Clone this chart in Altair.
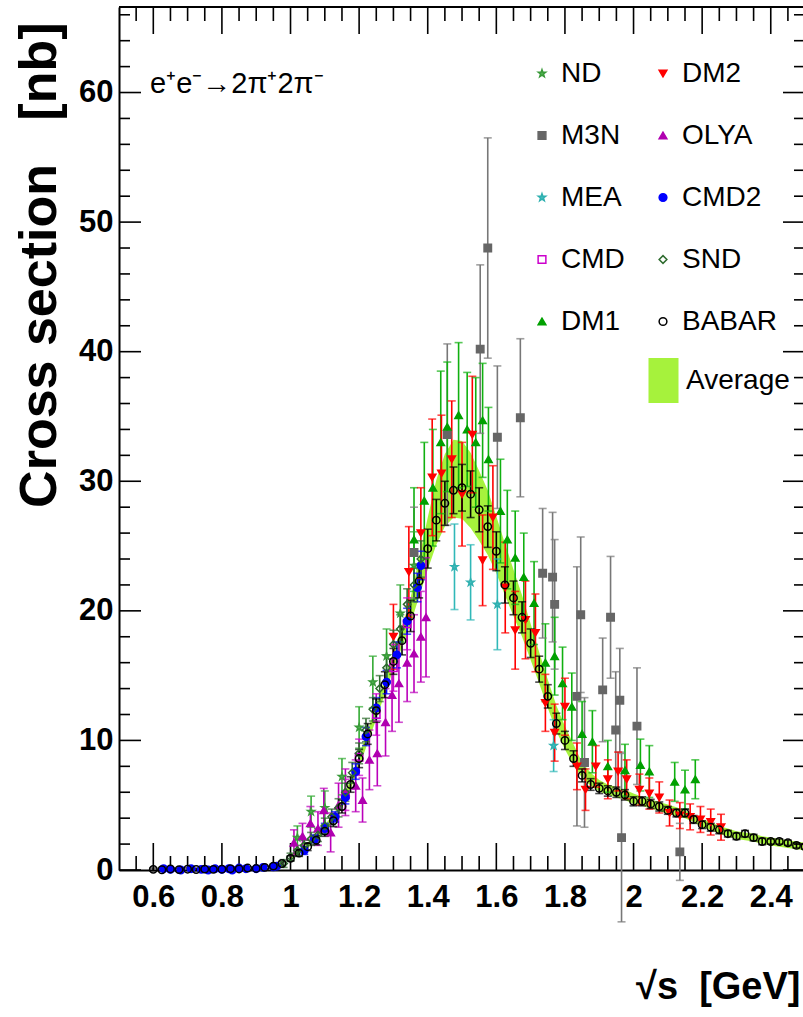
import altair as alt
import pandas as pd

FONT = "Liberation Sans, Arial, sans-serif"

# ---------------- data ----------------
reaction_label = ["e\u207ae\u207b\u21922\u03c0\u207a2\u03c0\u207b"]
average_label = ["Average"]

babar_x = [0.600, 0.625, 0.650, 0.675, 0.700, 0.725, 0.750, 0.775, 0.800, 0.825, 0.850, 0.875,
           0.900, 0.925, 0.950, 0.975, 1.000, 1.025, 1.050, 1.075, 1.100, 1.125, 1.150, 1.175,
           1.200, 1.225, 1.250, 1.275, 1.300, 1.325, 1.350, 1.375, 1.400, 1.425, 1.450, 1.475,
           1.500, 1.525, 1.550, 1.575, 1.600, 1.625, 1.650, 1.675, 1.700, 1.725, 1.750, 1.775,
           1.800, 1.825, 1.850, 1.875, 1.900, 1.925, 1.950, 1.975, 2.000, 2.025, 2.050, 2.075,
           2.100, 2.125, 2.150, 2.175, 2.200, 2.225, 2.250, 2.275, 2.300, 2.325, 2.350, 2.375,
           2.400, 2.425, 2.450, 2.475, 2.500]
babar_y = [0.05, 0.02, 0.08, 0.03, 0.06, 0.04, 0.07, 0.05, 0.06, 0.10, 0.08, 0.15,
           0.12, 0.20, 0.30, 0.50, 0.9, 1.3, 1.8, 2.3, 3.0, 3.8, 4.9, 6.6,
           8.6, 10.5, 12.3, 14.3, 16.1, 17.7, 19.6, 22.3, 24.8, 27.0, 28.3, 29.3,
           29.5, 29.0, 27.8, 26.5, 24.6, 22.0, 21.0, 19.5, 17.5, 15.5, 13.4, 11.3,
           10.0, 8.6, 7.3, 6.6, 6.3, 6.1, 6.0, 5.8, 5.3, 5.3, 5.1, 4.9,
           4.6, 4.4, 4.4, 3.9, 3.5, 3.3, 3.1, 2.8, 2.6, 2.8, 2.5, 2.2,
           2.2, 2.2, 2.1, 1.9, 1.8]
babar_err = [0.1, 0.1, 0.1, 0.1, 0.1, 0.1, 0.1, 0.1, 0.1, 0.1, 0.1, 0.1,
             0.1, 0.1, 0.15, 0.15, 0.2, 0.25, 0.3, 0.35, 0.4, 0.45, 0.5, 0.6,
             0.7, 0.8, 0.9, 1.0, 1.0, 1.1, 1.2, 1.3, 1.5, 1.6, 1.7, 1.8,
             1.8, 1.8, 1.7, 1.6, 1.5, 1.4, 1.3, 1.2, 1.1, 1.0, 0.9, 0.8,
             0.7, 0.6, 0.5, 0.45, 0.4, 0.4, 0.4, 0.4, 0.35, 0.35, 0.35, 0.35,
             0.3, 0.3, 0.3, 0.3, 0.3, 0.3, 0.3, 0.25, 0.25, 0.25, 0.25, 0.25,
             0.2, 0.2, 0.2, 0.2, 0.2]

avg_x = [1.000, 1.025, 1.050, 1.075, 1.100, 1.125, 1.150, 1.175, 1.200, 1.225, 1.250, 1.275,
         1.300, 1.325, 1.350, 1.375, 1.400, 1.425, 1.450, 1.475, 1.500, 1.525, 1.550, 1.575,
         1.600, 1.625, 1.650, 1.675, 1.700, 1.725, 1.750, 1.775, 1.800, 1.825, 1.850, 1.875,
         1.900, 1.925, 1.950, 1.975, 2.000, 2.025, 2.050, 2.075, 2.100, 2.125, 2.150, 2.175,
         2.200, 2.225, 2.250, 2.275, 2.300, 2.325, 2.350, 2.375, 2.400, 2.425, 2.450, 2.475, 2.500]
avg_y = [1.0, 1.4, 1.9, 2.5, 3.2, 4.0, 5.1, 6.6, 8.4, 10.3, 12.2, 14.2,
         16.2, 18.0, 20.0, 22.6, 25.2, 27.6, 29.3, 30.2, 30.1, 29.3, 28.1, 26.8,
         25.1, 23.2, 21.4, 19.6, 17.6, 15.6, 13.6, 11.7, 10.2, 8.9, 7.7, 7.0,
         6.5, 6.2, 6.0, 5.8, 5.5, 5.3, 5.1, 4.9, 4.7, 4.5, 4.3, 4.0,
         3.6, 3.4, 3.1, 2.9, 2.7, 2.6, 2.5, 2.3, 2.2, 2.1, 2.0, 1.9, 1.8]
avg_err = [0.2, 0.2, 0.2, 0.25, 0.3, 0.3, 0.35, 0.4, 0.45, 0.5, 0.55, 0.6,
           0.7, 0.8, 1.0, 1.5, 2.0, 2.5, 2.8, 3.0, 3.0, 2.9, 2.7, 2.5,
           2.2, 2.0, 1.8, 1.6, 1.4, 1.2, 1.1, 1.0, 0.9, 0.8, 0.6, 0.5,
           0.45, 0.4, 0.4, 0.4, 0.4, 0.35, 0.35, 0.35, 0.35, 0.35, 0.3, 0.3,
           0.3, 0.3, 0.3, 0.3, 0.3, 0.3, 0.3, 0.3, 0.3, 0.3, 0.3, 0.3, 0.3]

nd_x = [1.02, 1.06, 1.10, 1.15, 1.20, 1.24, 1.28, 1.32, 1.36]
nd_y = [2.5, 4.5, 4.8, 7.2, 11.0, 14.5, 16.5, 19.8, 23.5]
nd_err = [0.9, 1.2, 1.3, 1.4, 1.6, 2.0, 2.1, 2.2, 2.6]

m3n_x = [1.36, 1.457, 1.553, 1.575, 1.603, 1.67, 1.735, 1.764, 1.77, 1.835, 1.846, 1.857,
         1.91, 1.933, 1.948, 1.96, 1.965, 2.01, 2.135]
m3n_y = [24.5, 33.6, 40.2, 48.0, 33.4, 34.9, 22.9, 22.6, 20.5, 13.4, 19.7, 8.3,
         13.9, 19.5, 10.8, 13.1, 2.5, 11.1, 1.4]
m3n_err = [3.5, 7.0, 6.5, 8.5, 5.5, 6.1, 5.0, 5.0, 5.0, 10.0, 6.0, 5.0,
           4.0, 4.7, 4.5, 4.0, 6.5, 4.5, 2.2]

mea_x = [1.478, 1.525, 1.603, 1.767]
mea_y = [23.4, 22.2, 20.5, 9.6]
mea_err = [3.3, 2.9, 3.5, 2.0]

cmd_x = [1.16, 1.20, 1.25, 1.30, 1.34]
cmd_y = [5.8, 8.7, 12.0, 15.6, 19.0]
cmd_err = [1.2, 1.4, 1.6, 1.8, 2.0]

dm1_x = [1.36, 1.39, 1.415, 1.438, 1.457, 1.49, 1.515, 1.54, 1.56, 1.577, 1.612, 1.632,
         1.655, 1.68, 1.71, 1.743, 1.77, 1.793, 1.82, 1.85, 1.88, 1.925, 1.975, 2.02,
         2.046, 2.12, 2.15, 2.18]
dm1_y = [25.5, 28.5, 29.5, 33.0, 34.2, 35.1, 34.0, 33.0, 34.7, 31.7, 27.7, 25.5,
         24.1, 22.6, 20.6, 16.0, 16.5, 14.4, 12.6, 10.5, 9.9, 8.0, 7.7, 8.1,
         7.6, 6.8, 6.2, 7.0]
dm1_err = [4.0, 4.5, 4.5, 5.5, 5.0, 5.6, 4.4, 5.0, 4.4, 4.0, 4.0, 3.8,
           3.6, 3.4, 3.2, 3.0, 3.0, 2.8, 2.6, 2.5, 2.4, 2.0, 2.0, 2.0,
           2.0, 1.5, 1.5, 1.5]

dm2_x = [1.30, 1.345, 1.38, 1.413, 1.44, 1.47, 1.50, 1.53, 1.56, 1.59, 1.626, 1.655,
         1.685, 1.714, 1.743, 1.77, 1.80, 1.835, 1.86, 1.89, 1.925, 1.955, 1.98, 2.017,
         2.046, 2.075, 2.105, 2.135, 2.165, 2.195, 2.225, 2.255]
dm2_y = [18.0, 23.0, 26.0, 30.3, 30.6, 31.7, 29.0, 33.6, 23.9, 27.2, 21.8, 18.5,
         19.3, 18.3, 12.9, 10.6, 12.6, 8.0, 6.2, 8.0, 7.0, 7.6, 7.0, 6.2,
         5.9, 5.6, 4.4, 4.2, 4.1, 3.9, 3.7, 3.3]
dm2_err = [2.5, 3.5, 3.5, 4.5, 4.5, 4.5, 4.0, 4.5, 3.5, 4.0, 3.5, 3.0,
           3.0, 3.0, 2.2, 2.2, 2.2, 1.8, 1.6, 1.6, 1.5, 1.5, 1.5, 1.2,
           1.2, 1.2, 1.0, 1.0, 1.0, 1.0, 1.0, 1.0]

olya_x = [1.01, 1.035, 1.058, 1.08, 1.097, 1.117, 1.14, 1.16, 1.19, 1.21, 1.23, 1.253,
          1.277, 1.296, 1.316, 1.34, 1.36, 1.38, 1.395]
olya_y = [2.1, 2.6, 3.6, 3.2, 4.6, 2.9, 5.0, 6.0, 6.5, 5.4, 8.5, 9.0,
          11.4, 13.5, 14.4, 16.0, 16.7, 18.0, 19.5]
olya_err = [1.0, 1.0, 1.3, 1.3, 1.7, 1.5, 1.7, 1.8, 2.0, 1.7, 2.3, 2.5,
            2.6, 2.8, 3.0, 3.0, 3.0, 3.5, 4.6]

cmd2_x = [0.63, 0.65, 0.68, 0.71, 0.74, 0.76, 0.78, 0.80, 0.82, 0.83, 0.85, 0.87,
          0.90, 0.92, 0.95, 0.96, 1.04, 1.07, 1.10, 1.13, 1.16, 1.19, 1.22, 1.25,
          1.28, 1.31, 1.34, 1.37, 1.38]
cmd2_y = [0.1, 0.05, 0.0, 0.1, 0.05, 0.0, 0.1, 0.05, 0.1, 0.0, 0.15, 0.1,
          0.1, 0.2, 0.25, 0.3, 1.5, 2.4, 3.2, 4.1, 5.6, 7.6, 10.3, 12.5,
          14.5, 16.6, 19.2, 21.8, 23.5]
cmd2_err = [0.1, 0.1, 0.1, 0.1, 0.1, 0.1, 0.1, 0.1, 0.1, 0.1, 0.1, 0.1,
            0.1, 0.1, 0.1, 0.1, 0.3, 0.3, 0.4, 0.4, 0.5, 0.6, 0.7, 0.8,
            0.9, 1.0, 1.0, 1.1, 1.1]

snd_x = [0.98, 1.00, 1.02, 1.04, 1.06, 1.08, 1.10, 1.12, 1.14, 1.16, 1.18, 1.20,
         1.22, 1.24, 1.26, 1.28, 1.30, 1.32, 1.34, 1.36, 1.38]
snd_y = [0.5, 1.0, 1.5, 1.9, 2.4, 2.7, 3.4, 4.1, 4.8, 6.0, 7.5, 9.0,
         10.8, 12.4, 14.0, 15.6, 17.4, 18.6, 20.5, 22.0, 24.0]
snd_err = [0.3, 0.3, 0.4, 0.4, 0.5, 0.5, 0.6, 0.6, 0.7, 0.7, 0.8, 0.8,
           0.9, 0.9, 1.0, 1.0, 1.1, 1.1, 1.2, 1.3, 1.4]

x_label_values = [0.6, 0.8, 1.0, 1.2, 1.4, 1.6, 1.8, 2.0, 2.2, 2.4]
y_label_values = [0, 10, 20, 30, 40, 50, 60]

# ---------------- styles ----------------
STAR = ("M0,-1L0.235,-0.324L0.951,-0.309L0.380,0.124L0.588,0.809L0,0.4"
        "L-0.588,0.809L-0.380,0.124L-0.951,-0.309L-0.235,-0.324Z")
BOX = "M-0.667,-1L0.667,-1L0.667,1L-0.667,1Z"
AVG_COLOR = "#a6f23c"

# legend order: column 1 then column 2
dom = ["ND", "M3N", "MEA", "CMD", "DM1", "DM2", "OLYA", "CMD2", "SND", "BABAR"]
shapes = [STAR, "square", STAR, "square", "triangle-up",
          "triangle-down", "triangle-up", "circle", "diamond", "circle"]
fills = ["#4fb84f", "#666666", "#40c0c0", "transparent", "#00a000",
         "#ff0000", "#b000b0", "#0000ff", "transparent", "transparent"]
strokes = ["#3a9a3a", "#666666", "#30b0b0", "#cc00cc", "#00a000",
           "#ff0000", "#b000b0", "#0000ff", "#2e6b2e", "#000000"]

# error-bar colours, in drawing order (separate scale so it does not join the legend)
bar_dom = ["M3N", "ND", "MEA", "CMD", "OLYA", "DM1", "DM2", "CMD2", "SND", "BABAR"]
bar_cols = ["#777777", "#33aa33", "#30b8b8", "#cc00cc", "#bb00bb", "#10b010", "#ff0000",
            "#0000ff", "#2e6b2e", "#000000"]

# ---------------- tables ----------------
series_data = {"M3N": (m3n_x, m3n_y, m3n_err), "ND": (nd_x, nd_y, nd_err),
               "MEA": (mea_x, mea_y, mea_err), "CMD": (cmd_x, cmd_y, cmd_err),
               "OLYA": (olya_x, olya_y, olya_err), "DM1": (dm1_x, dm1_y, dm1_err),
               "DM2": (dm2_x, dm2_y, dm2_err), "CMD2": (cmd2_x, cmd2_y, cmd2_err),
               "SND": (snd_x, snd_y, snd_err), "BABAR": (babar_x, babar_y, babar_err)}
rows = []
for name in bar_dom:
    xs_, ys_, es_ = series_data[name]
    for a, b, e in zip(xs_, ys_, es_):
        rows.append({"series": name, "x": a, "y": b, "lo": b - e, "hi": b + e})
df = pd.DataFrame(rows)

band = pd.DataFrame({"x": avg_x, "lo": [v - e for v, e in zip(avg_y, avg_err)],
                     "hi": [v + e for v, e in zip(avg_y, avg_err)],
                     "lbl": average_label * len(avg_x)})

x_minor = [round(0.5 + 0.05 * i, 2) for i in range(1, 40)]
x_minor = [v for v in x_minor if all(abs(v - m) > 1e-6 for m in x_label_values)]
y_minor = [v for v in range(2, 67, 2) if v % 10 != 0]

# ---------------- chart ----------------
W, H = 684, 863
xs = alt.Scale(domain=[0.5, 2.494], nice=False, zero=False)
ys = alt.Scale(domain=[0, 66.6], nice=False, zero=False)

x_axis = alt.Axis(values=x_label_values, format="~g", tickSize=0, grid=False,
                  domainColor="black", domainWidth=2,
                  labelFont=FONT, labelFontWeight="bold", labelFontSize=31, labelColor="black",
                  labelPadding=12, labelFlush=False, labelOverlap=False,
                  title="\u221as\u00a0\u00a0[GeV]", titleFont=FONT, titleFontWeight="bold",
                  titleFontSize=38, titleColor="black", titleAlign="right",
                  titleX=W - 3, titleY=117, titleBaseline="middle")
y_axis = alt.Axis(values=y_label_values, tickSize=0, grid=False,
                  domainColor="black", domainWidth=2,
                  labelFont=FONT, labelFontWeight="bold", labelFontSize=31, labelColor="black",
                  labelPadding=6, labelFlush=False, labelOverlap=False,
                  title="Cross section\u00a0\u00a0\u00a0[nb]", titleFont=FONT,
                  titleFontWeight="bold", titleFontSize=52, titleColor="black",
                  titleAlign="right", titleAngle=270, titleX=-80, titleY=15,
                  titleBaseline="middle")

X = lambda f: alt.X(f, scale=xs, axis=x_axis)
Y = lambda f: alt.Y(f, scale=ys, axis=y_axis)

avg_legend = alt.Legend(title=None, orient="none", legendX=522, legendY=351, padding=0,
                        clipHeight=45, symbolType=BOX, symbolSize=2025,
                        symbolFillColor=AVG_COLOR, symbolStrokeColor=AVG_COLOR,
                        symbolStrokeWidth=0, labelFont=FONT, labelFontSize=28,
                        labelColor="black", labelOffset=0, labelLimit=300)
band_layer = alt.Chart(band).mark_area(color=AVG_COLOR).encode(
    x=X("x:Q"), y=Y("lo:Q"), y2="hi:Q",
    opacity=alt.Opacity("lbl:N", scale=alt.Scale(domain=average_label, range=[1]),
                        legend=avg_legend))

bar_color = alt.Color("series:N", scale=alt.Scale(domain=bar_dom, range=bar_cols), legend=None)
bars = alt.Chart(df).mark_rule(strokeWidth=1.6).encode(
    x=X("x:Q"), y=Y("lo:Q"), y2="hi:Q", color=bar_color)
caps_lo = alt.Chart(df).mark_tick(orient="horizontal", size=8, thickness=1.6).encode(
    x=X("x:Q"), y=Y("lo:Q"), color=bar_color)
caps_hi = alt.Chart(df).mark_tick(orient="horizontal", size=8, thickness=1.6).encode(
    x=X("x:Q"), y=Y("hi:Q"), color=bar_color)

legend = alt.Legend(title=None, orient="none", legendX=409, legendY=44, columns=2,
                    columnPadding=24, rowPadding=17, padding=0, clipHeight=45,
                    labelFont=FONT, labelFontSize=28, labelColor="black", labelOffset=5,
                    symbolSize=60, symbolStrokeWidth=1.5, labelLimit=300)
points = alt.Chart(df).mark_point(filled=True, strokeWidth=1.5, opacity=1, size=55).encode(
    x=X("x:Q"), y=Y("y:Q"),
    shape=alt.Shape("series:N", scale=alt.Scale(domain=dom, range=shapes), legend=legend),
    fill=alt.Fill("series:N", scale=alt.Scale(domain=dom, range=fills), legend=legend),
    stroke=alt.Stroke("series:N", scale=alt.Scale(domain=dom, range=strokes), legend=legend),
)

def xticks(vals, length):
    d = pd.DataFrame({"v": vals})
    b = alt.Chart(d).mark_rule(color="black", strokeWidth=1.6).encode(
        x=X("v:Q"), y=alt.value(H), y2=alt.value(H - length))
    t = alt.Chart(d).mark_rule(color="black", strokeWidth=1.6).encode(
        x=X("v:Q"), y=alt.value(0), y2=alt.value(length))
    return [b, t]

def yticks(vals, length):
    d = pd.DataFrame({"v": vals})
    l = alt.Chart(d).mark_rule(color="black", strokeWidth=1.6).encode(
        y=Y("v:Q"), x=alt.value(0), x2=alt.value(length))
    r = alt.Chart(d).mark_rule(color="black", strokeWidth=1.6).encode(
        y=Y("v:Q"), x=alt.value(W + 2), x2=alt.value(W + 2 - length))
    return [l, r]

top_frame = alt.Chart(pd.DataFrame({"k": [0]})).mark_rule(color="black", strokeWidth=2).encode(
    x=alt.value(0), x2=alt.value(W + 2), y=alt.value(0))

title_layer = alt.Chart(pd.DataFrame({"t": reaction_label})).mark_text(
    font=FONT, fontSize=29, align="left", baseline="alphabetic", color="black").encode(
    x=alt.value(31), y=alt.value(86), text="t:N")

chart = alt.layer(
    band_layer,
    *xticks(x_label_values, 27), *xticks(x_minor, 14),
    *yticks(y_label_values, 22), *yticks(y_minor, 11),
    top_frame,
    bars, caps_lo, caps_hi, points,
    title_layer,
).properties(
    width=W, height=H,
    autosize=alt.AutoSizeParams(type="none"),
    padding={"left": 119, "top": 7, "right": 0, "bottom": 147},
).configure_view(stroke=None).configure(background="white")

chart.save("out.html", embed_options={"renderer": "svg", "actions": False})
